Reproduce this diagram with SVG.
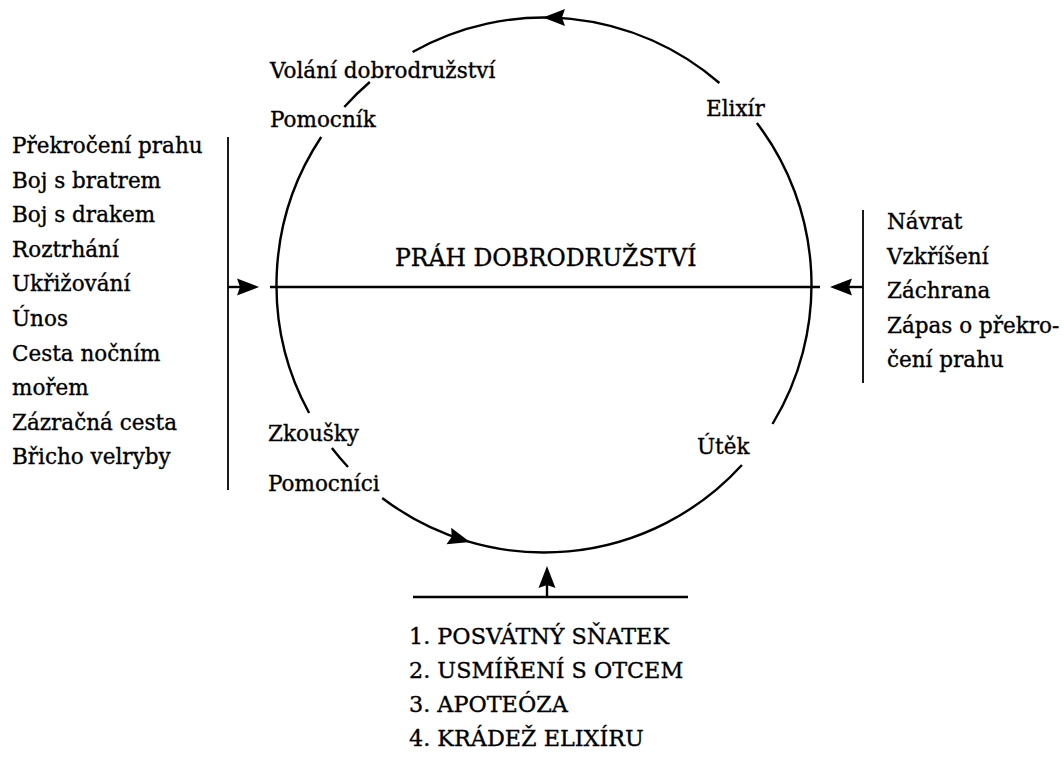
<svg xmlns="http://www.w3.org/2000/svg" xmlns:xlink="http://www.w3.org/1999/xlink" width="1064" height="760" viewBox="0 0 1064 760">
<style>
  .t { font-family: "DejaVu Serif", "Liberation Serif", serif; font-size: 21.5px; fill: #000; stroke: #000; stroke-width: 0.35px; }
  .big { font-size: 23.5px; }
  .caps { font-size: 22.3px; }
  .ln { fill: none; stroke: #000; stroke-width: 2.4; }
  .thin { fill: none; stroke: #000; stroke-width: 1.8; }
  .ah { fill: #000; stroke: none; }
</style>
<defs>
  <path id="ah" d="M0,0 L-22,-8.5 L-19,0 L-22,8.5 Z"/>
</defs>
<rect width="1064" height="760" fill="#fff"/>
<g id="connectors">
  <path class="ln" d="M412.6,52 A267.5,267.5 0 0 1 719.4,83"/>
  <path class="ln" d="M369.8,82 A267.5,267.5 0 0 0 344.3,107"/>
  <path class="ln" d="M321.2,137 A267.5,267.5 0 0 0 309.1,413"/>
  <path class="ln" d="M331.9,448 A267.5,267.5 0 0 0 348,467"/>
  <path class="ln" d="M382.2,498 A267.5,267.5 0 0 0 741.9,465"/>
  <path class="ln" d="M772.5,424 A267.5,267.5 0 0 0 756.9,123"/>
  <use href="#ah" class="ah" transform="translate(543,17.5) rotate(180)"/>
  <use href="#ah" class="ah" transform="translate(470,542.1) rotate(16)"/>
  <line class="ln" x1="270" y1="287" x2="820" y2="287"/>
  <line class="thin" x1="228" y1="137" x2="228" y2="490"/>
  <line class="ln" x1="228" y1="287" x2="245" y2="287"/>
  <use href="#ah" class="ah" transform="translate(259,287)"/>
  <line class="thin" x1="863" y1="210" x2="863" y2="383"/>
  <line class="ln" x1="863" y1="287" x2="845" y2="287"/>
  <use href="#ah" class="ah" transform="translate(830,287) rotate(180)"/>
  <line class="ln" x1="413" y1="597" x2="688" y2="597"/>
  <line class="ln" x1="547" y1="597" x2="547" y2="580"/>
  <use href="#ah" class="ah" transform="translate(547,566) rotate(-90)"/>
</g>
<g id="volani"><text class="t" x="270" y="78">Volání dobrodružství</text></g>
<g id="pomocnik"><text class="t" x="270" y="127">Pomocník</text></g>
<g id="elixir"><text class="t" x="706" y="116">Elixír</text></g>
<g id="prah"><text class="t big" x="395" y="266">PRÁH DOBRODRUŽSTVÍ</text></g>
<g id="left-list">
  <text class="t" x="12" y="153">Překročení prahu</text>
  <text class="t" x="12" y="187.6">Boj s bratrem</text>
  <text class="t" x="12" y="222.2">Boj s drakem</text>
  <text class="t" x="12" y="256.8">Roztrhání</text>
  <text class="t" x="12" y="291.4">Ukřižování</text>
  <text class="t" x="12" y="326">Únos</text>
  <text class="t" x="12" y="360.6">Cesta nočním</text>
  <text class="t" x="12" y="395.2">mořem</text>
  <text class="t" x="12" y="429.8">Zázračná cesta</text>
  <text class="t" x="12" y="464.4">Břicho velryby</text>
</g>
<g id="right-list">
  <text class="t" x="887" y="229">Návrat</text>
  <text class="t" x="887" y="263.6">Vzkříšení</text>
  <text class="t" x="887" y="298.2">Záchrana</text>
  <text class="t" x="887" y="332.8">Zápas o překro-</text>
  <text class="t" x="887" y="367.4">čení prahu</text>
</g>
<g id="zkousky"><text class="t" x="268" y="441">Zkoušky</text></g>
<g id="pomocnici"><text class="t" x="268" y="491">Pomocníci</text></g>
<g id="utek"><text class="t" x="697" y="454">Útěk</text></g>
<g id="bottom-list">
  <text class="t caps" x="409" y="644">1. POSVÁTNÝ SŇATEK</text>
  <text class="t caps" x="409" y="678">2. USMÍŘENÍ S OTCEM</text>
  <text class="t caps" x="409" y="712">3. APOTEÓZA</text>
  <text class="t caps" x="409" y="746">4. KRÁDEŽ ELIXÍRU</text>
</g>
</svg>
